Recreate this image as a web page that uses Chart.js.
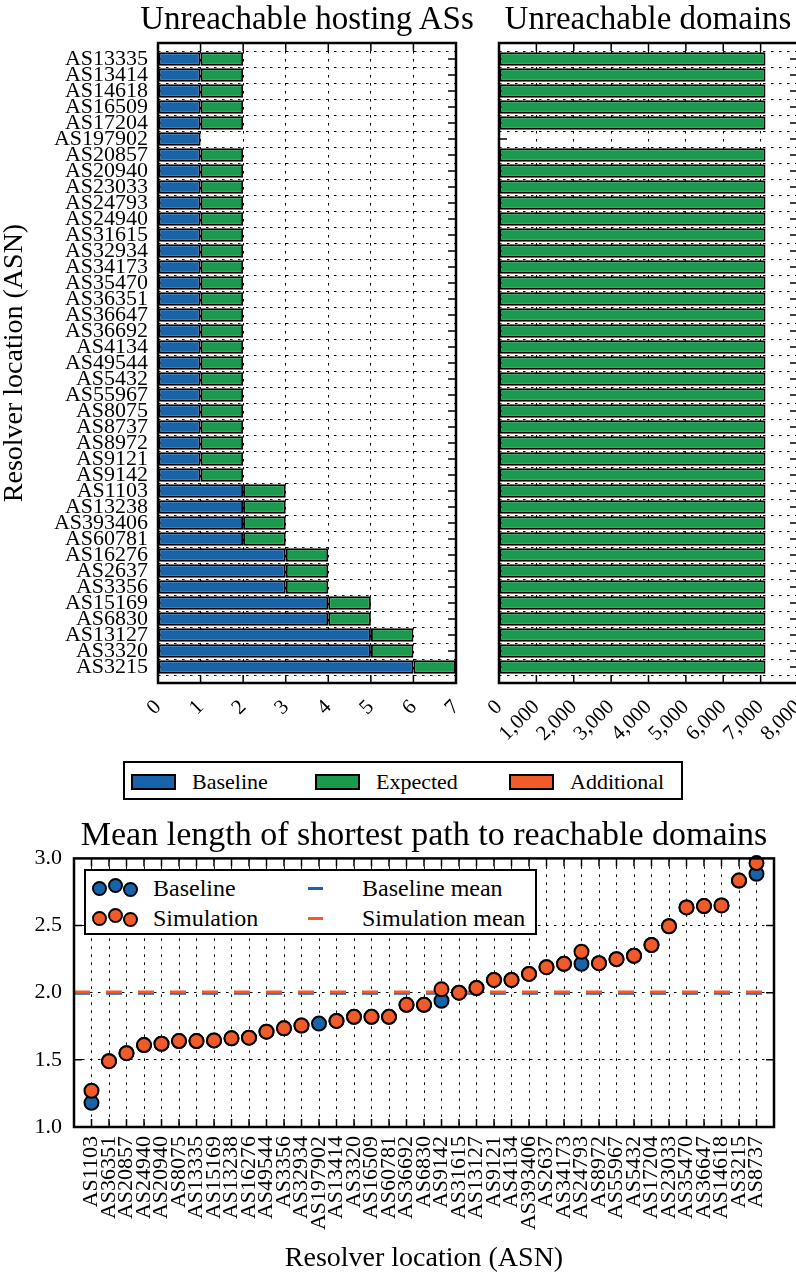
<!DOCTYPE html>
<html>
<head>
<meta charset="utf-8">
<script src="https://cdn.jsdelivr.net/npm/chart.js@4.4.1/dist/chart.umd.min.js"></script>
<style>
html, body { margin: 0; padding: 0; background: #fff; }
#page { position: relative; width: 796px; height: 1277px; overflow: hidden; font-family: 'Liberation Serif', serif; color: #000; }
#page canvas { position: absolute; }
.title { position: absolute; width: 400px; text-align: center; font-size: 33px; line-height: 1; white-space: nowrap; }
.box { position: absolute; border: 2.5px solid #000; box-sizing: border-box; background: #fff; }
.item { position: absolute; white-space: nowrap; line-height: 1; }
.patch { position: absolute; border: 2px solid #000; box-sizing: border-box; }
.dot { position: absolute; width: 15px; height: 15px; border: 2px solid #000; border-radius: 50%; box-sizing: border-box; }
.dash { position: absolute; width: 15px; height: 3px; }
</style>
</head>
<body>
<div id="page">
  <canvas id="hosts" width="470" height="745" style="left:0;top:0"></canvas>
  <canvas id="domains" width="340" height="745" style="left:468px;top:0"></canvas>
  <canvas id="paths" width="796" height="461" style="left:0;top:816px"></canvas>

  <div class="title" style="left:107px;top:2px">Unreachable hosting ASs</div>
  <div class="title" style="left:448px;top:2px">Unreachable domains</div>

  <div class="box" style="left:123px;top:761px;width:560px;height:39px;font-size:22px">
    <div class="patch" style="left:6px;top:11px;width:45px;height:16px;background:#1864aa"></div>
    <div class="item" style="left:67px;top:8px">Baseline</div>
    <div class="patch" style="left:190px;top:11px;width:45px;height:16px;background:#1a9a4c"></div>
    <div class="item" style="left:251px;top:8px">Expected</div>
    <div class="patch" style="left:384px;top:11px;width:45px;height:16px;background:#f15a29"></div>
    <div class="item" style="left:445px;top:8px">Additional</div>
  </div>

  <div class="box" style="left:84px;top:869px;width:453px;height:66px;font-size:24px">
    <div class="dot" style="left:6px;top:10px;background:#1864aa"></div>
    <div class="dot" style="left:22px;top:7px;background:#1864aa"></div>
    <div class="dot" style="left:37px;top:11px;background:#1864aa"></div>
    <div class="item" style="left:67px;top:5px">Baseline</div>
    <div class="dot" style="left:6px;top:40px;background:#f15a29"></div>
    <div class="dot" style="left:22px;top:37px;background:#f15a29"></div>
    <div class="dot" style="left:37px;top:41px;background:#f15a29"></div>
    <div class="item" style="left:67px;top:35px">Simulation</div>
    <div class="dash" style="left:222px;top:16px;background:#1864aa"></div>
    <div class="item" style="left:276px;top:5px">Baseline mean</div>
    <div class="dash" style="left:222px;top:46px;background:#f15a29"></div>
    <div class="item" style="left:276px;top:35px">Simulation mean</div>
  </div>
</div>
<script>
const BLUE = '#1864aa';
const GREEN = '#1a9a4c';
const ORANGE = '#f15a29';

// top charts
const hostingAS = ['AS13335', 'AS13414', 'AS14618', 'AS16509', 'AS17204', 'AS197902', 'AS20857',
    'AS20940', 'AS23033', 'AS24793', 'AS24940', 'AS31615', 'AS32934', 'AS34173', 'AS35470',
    'AS36351', 'AS36647', 'AS36692', 'AS4134', 'AS49544', 'AS5432', 'AS55967', 'AS8075',
    'AS8737', 'AS8972', 'AS9121', 'AS9142', 'AS1103', 'AS13238', 'AS393406', 'AS60781',
    'AS16276', 'AS2637', 'AS3356', 'AS15169', 'AS6830', 'AS13127', 'AS3320', 'AS3215'];
const hostsBaseline = [1, 1, 1, 1, 1, 1, 1, 1, 1, 1, 1, 1, 1, 1, 1, 1, 1, 1, 1, 1, 1, 1, 1, 1, 1, 1, 1,
    2, 2, 2, 2, 3, 3, 3, 4, 4, 5, 5, 6];
const hostsExpected = [1, 1, 1, 1, 1, 0, 1, 1, 1, 1, 1, 1, 1, 1, 1, 1, 1, 1, 1, 1, 1, 1, 1, 1, 1, 1, 1,
    1, 1, 1, 1, 1, 1, 1, 1, 1, 1, 1, 1];
const domainsExpected = [7130, 7130, 7130, 7130, 7130, 0, 7130, 7130, 7130, 7130, 7130, 7130, 7130,
    7130, 7130, 7130, 7130, 7130, 7130, 7130, 7130, 7130, 7130, 7130, 7130, 7130, 7130, 7130,
    7130, 7130, 7130, 7130, 7130, 7130, 7130, 7130, 7130, 7130, 7130];

// bottom chart
const pathAS = ['AS1103', 'AS36351', 'AS20857', 'AS24940', 'AS20940', 'AS8075', 'AS13335', 'AS15169',
    'AS13238', 'AS16276', 'AS49544', 'AS3356', 'AS32934', 'AS197902', 'AS13414', 'AS3320',
    'AS16509', 'AS60781', 'AS36692', 'AS6830', 'AS9142', 'AS31615', 'AS13127', 'AS9121',
    'AS4134', 'AS393406', 'AS2637', 'AS34173', 'AS24793', 'AS8972', 'AS55967', 'AS5432',
    'AS17204', 'AS23033', 'AS35470', 'AS36647', 'AS14618', 'AS3215', 'AS8737'];
const pathBaseline = [1.18, 1.49, 1.55, 1.61, 1.62, 1.64, 1.64, 1.645, 1.66, 1.665, 1.71, 1.735, 1.755,
    1.77, 1.79, 1.82, 1.82, 1.82, 1.91, 1.91, 1.94, 2.00, 2.035, 2.095, 2.095, 2.14, 2.19, 2.215,
    2.215, 2.22, 2.25, 2.275, 2.355, 2.495, 2.635, 2.645, 2.65, 2.835, 2.885];
const pathSimulation = [1.27, 1.49, 1.55, 1.61, 1.62, 1.64, 1.64, 1.645, 1.66, 1.665, 1.71, 1.735, 1.755,
    null, 1.79, 1.82, 1.82, 1.82, 1.91, 1.91, 2.025, 2.00, 2.035, 2.095, 2.095, 2.14, 2.19, 2.215,
    2.305, 2.22, 2.25, 2.275, 2.355, 2.495, 2.635, 2.645, 2.65, 2.835, 2.965];
const baselineMean = 1.995;
const simulationMean = 2.005;

Chart.defaults.font.family = "'Liberation Serif', serif";
Chart.defaults.color = '#000';

// half a slot of empty space at both ends of the category axes
const pad = arr => ['', ...arr, ''];
const padData = arr => [null, ...arr.map(v => v || null), null];

// ticks pointing inwards on all four sides, plus a black frame
const frame = {
    id: 'frame',
    beforeDatasetsDraw(chart) {
        const { ctx, chartArea: a, scales } = chart;
        ctx.save();
        ctx.strokeStyle = '#000';
        ctx.lineWidth = 1.5;
        ctx.beginPath();
        scales.x.ticks.forEach((t, i) => {
            const p = scales.x.getPixelForTick(i);
            if (p < a.left + 2 || p > a.right - 2) return;
            ctx.moveTo(p, a.top); ctx.lineTo(p, a.top + 8);
            ctx.moveTo(p, a.bottom); ctx.lineTo(p, a.bottom - 8);
        });
        scales.y.ticks.forEach((t, i) => {
            const p = scales.y.getPixelForTick(i);
            if (p < a.top + 2 || p > a.bottom - 2) return;
            ctx.moveTo(a.left, p); ctx.lineTo(a.left + 8, p);
            ctx.moveTo(a.right, p); ctx.lineTo(a.right - 8, p);
        });
        ctx.stroke();
        ctx.restore();
    },
    afterDatasetsDraw(chart) {
        const { ctx, chartArea: a } = chart;
        ctx.save();
        ctx.strokeStyle = '#000';
        ctx.lineWidth = 2.5;
        ctx.strokeRect(a.left, a.top, a.width, a.height);
        ctx.restore();
    }
};

const gridStyle = { color: '#000', lineWidth: 1, drawTicks: false };
const borderStyle = { display: false, dash: [2.5, 5.5] };

function fixWidth(w) {
    return s => { s.width = w; s.paddingTop = 0; s.paddingBottom = 0; };
}
function fixHeight(h) {
    return s => { s.height = h; s.paddingLeft = 0; s.paddingRight = 0; };
}

function barChart(id, datasets, xOpts, yOpts, padRight) {
    new Chart(document.getElementById(id), {
        type: 'bar',
        data: { labels: pad(hostingAS), datasets: datasets },
        plugins: [frame],
        options: {
            indexAxis: 'y',
            responsive: false,
            animation: false,
            layout: { padding: { left: 0, right: padRight, top: 43, bottom: 0 } },
            plugins: {
                legend: { display: false },
                tooltip: { enabled: false }
            },
            scales: {
                x: Object.assign({
                    stacked: true,
                    grid: gridStyle,
                    border: borderStyle,
                    afterFit: fixHeight(62)
                }, xOpts),
                y: Object.assign({
                    stacked: true,
                    offset: false,
                    grid: gridStyle,
                    border: borderStyle
                }, yOpts)
            }
        }
    });
}

const barStyle = { borderColor: '#000', borderWidth: 2, borderSkipped: false,
    barPercentage: 0.84, categoryPercentage: 1 };

barChart('hosts', [
    Object.assign({ label: 'Baseline', data: padData(hostsBaseline), backgroundColor: BLUE }, barStyle),
    Object.assign({ label: 'Expected', data: padData(hostsExpected), backgroundColor: GREEN }, barStyle)
], {
    min: 0, max: 7,
    ticks: { stepSize: 1, font: { size: 21 }, padding: 12, minRotation: 45, maxRotation: 45, autoSkip: false }
}, {
    ticks: { font: { size: 22 }, padding: 10, autoSkip: false },
    title: { display: true, text: 'Resolver location (ASN)', font: { size: 28, lineHeight: 1.05 }, padding: 0 },
    afterFit: fixWidth(158)
}, 14);

barChart('domains', [
    Object.assign({ label: 'Expected', data: padData(domainsExpected), backgroundColor: GREEN }, barStyle)
], {
    min: 0, max: 8000,
    ticks: { stepSize: 1000, font: { size: 21 }, padding: 12, minRotation: 45, maxRotation: 45,
        autoSkip: false, callback: v => v.toLocaleString('en-US') }
}, {
    ticks: { display: false, autoSkip: false },
    afterFit: fixWidth(31)
}, 10);

const pointStyle = { showLine: false, pointRadius: 7, pointBorderWidth: 2,
    pointBorderColor: '#000', clip: false };
const meanStyle = { pointRadius: 0, borderWidth: 3, borderDash: [16, 16], borderCapStyle: 'butt', clip: false };

new Chart(document.getElementById('paths'), {
    type: 'line',
    data: {
        labels: pad(pathAS),
        datasets: [
            Object.assign({ label: 'Simulation', data: [null, ...pathSimulation, null],
                pointBackgroundColor: ORANGE, backgroundColor: ORANGE, order: 0 }, pointStyle),
            Object.assign({ label: 'Baseline', data: [null, ...pathBaseline, null],
                pointBackgroundColor: BLUE, backgroundColor: BLUE, order: 1 }, pointStyle),
            Object.assign({ label: 'Simulation mean', data: pad(pathAS).map(() => simulationMean),
                borderColor: ORANGE, order: 2 }, meanStyle),
            Object.assign({ label: 'Baseline mean', data: pad(pathAS).map(() => baselineMean),
                borderColor: BLUE, order: 3 }, meanStyle)
        ]
    },
    plugins: [frame],
    options: {
        responsive: false,
        animation: false,
        layout: { padding: { left: 0, right: 22, top: 0, bottom: 0 } },
        plugins: {
            legend: { display: false },
            tooltip: { enabled: false },
            title: {
                display: true, text: 'Mean length of shortest path to reachable domains', fullSize: false,
                font: { size: 34, weight: 'normal', lineHeight: 1.2 },
                padding: { top: 0, bottom: 1.6 }
            }
        },
        scales: {
            x: {
                offset: false,
                grid: gridStyle,
                border: borderStyle,
                ticks: { font: { size: 22 }, padding: 9, autoSkip: false, minRotation: 90, maxRotation: 90 },
                title: { display: true, text: 'Resolver location (ASN)', font: { size: 28, lineHeight: 1.2 },
                    padding: { top: 0, bottom: 2 } },
                afterFit: fixHeight(150)
            },
            y: {
                min: 1, max: 3,
                grid: gridStyle,
                border: borderStyle,
                ticks: { stepSize: 0.5, font: { size: 22 }, padding: 12, callback: v => v.toFixed(1) },
                afterFit: fixWidth(74)
            }
        }
    }
});
</script>
</body>
</html>
